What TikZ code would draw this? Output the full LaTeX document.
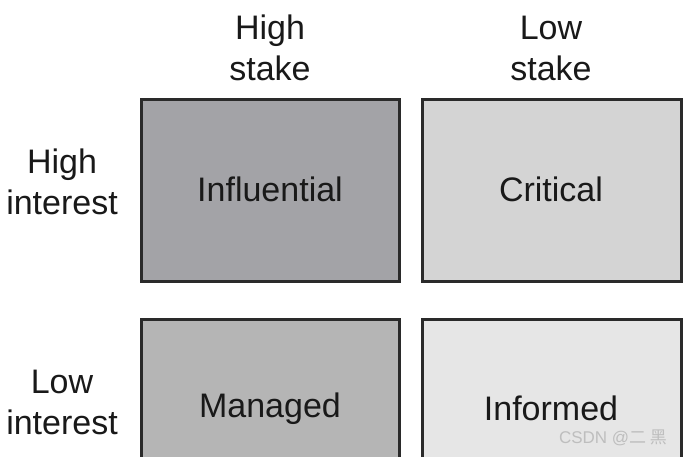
\documentclass[tikz,border=0pt]{standalone}
\usepackage{fontspec}
\setmainfont{Liberation Sans}
\newfontfamily\cjkfont{Noto Sans CJK SC}
\definecolor{influential}{HTML}{A3A3A7}
\definecolor{critical}{HTML}{D4D4D4}
\definecolor{managed}{HTML}{B5B5B5}
\definecolor{informed}{HTML}{E6E6E6}
\definecolor{edge}{HTML}{2A2A2A}
\definecolor{mark}{HTML}{BEBEBE}
\begin{document}
\begin{tikzpicture}[x=1pt,y=-1pt,
  cell/.style={draw=edge,line width=3pt},
  celltext/.style={font=\fontsize{34}{40}\selectfont,text=black!90},
  axis/.style={font=\fontsize{34}{41}\selectfont,align=center,text=black!90}]
\useasboundingbox (0,0) rectangle (685,456);
% quadrants
\path[cell,fill=influential] (141,99) rectangle (399,281);
\path[cell,fill=critical] (422,99) rectangle (681,281);
\path[cell,fill=managed] (141,319) rectangle (399,470);
\path[cell,fill=informed] (422,319) rectangle (681,470);
\node[celltext] (inf) at (270,189) {Influential};
\node[celltext] (cri) at (551,189) {Critical};
\node[celltext] (man) at (270,409) {Managed};
\node[celltext] (ifo) at (551,408) {Informed};
% column headings
\node[axis] (hs) at (270,48) {High\\stake};
\node[axis] (ls) at (551,48) {Low\\stake};
% row headings
\node[axis] (hi) at (62,182) {High\\interest};
\node[axis] (li) at (62,402) {Low\\interest};
% watermark
\node[font=\fontsize{17}{17}\selectfont,text=mark] (wm) at (613,438) {CSDN @{\cjkfont 二 黑}};
\end{tikzpicture}
\end{document}
